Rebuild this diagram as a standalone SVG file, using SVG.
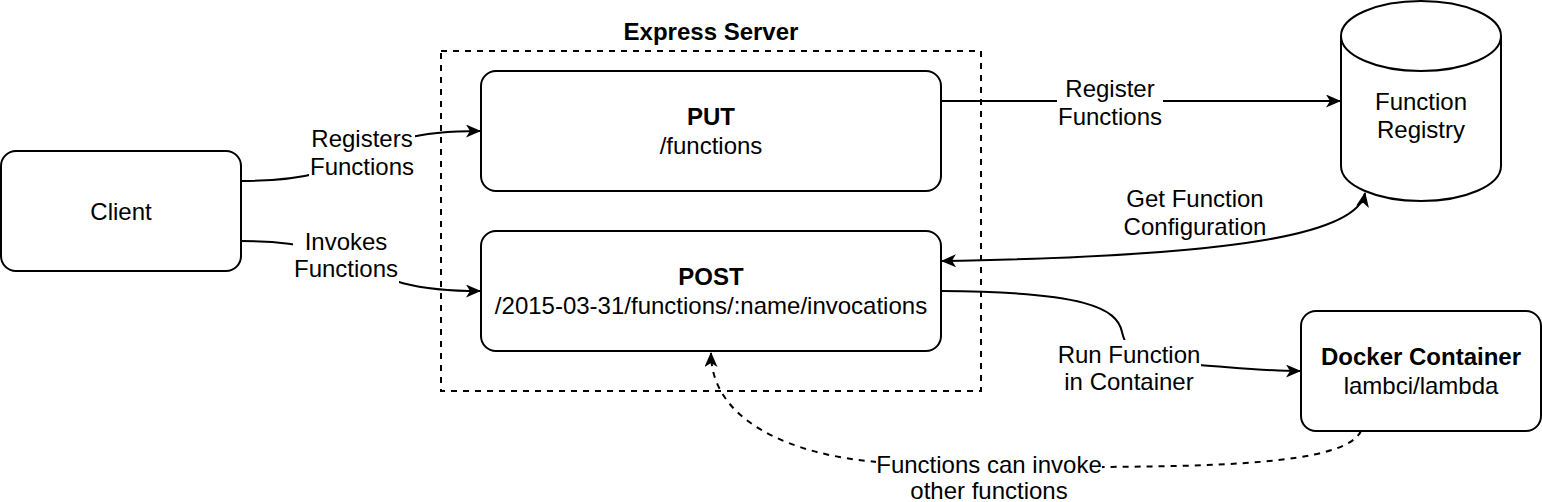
<svg xmlns="http://www.w3.org/2000/svg" width="1542" height="502" viewBox="0 0 1542 502">
<defs>
<style>
text{font-family:"Liberation Sans",Arial,Helvetica,sans-serif;font-size:24px;fill:#000;text-anchor:middle}
.b{font-weight:bold}
.box{fill:#fff;stroke:#000;stroke-width:2}
.edge{fill:none;stroke:#000;stroke-width:2}
.dash{stroke-dasharray:6 6}
.bg{fill:#fff}
</style>
<marker id="arr" viewBox="0 0 15 13" refX="14" refY="6.5" markerWidth="15" markerHeight="13" orient="auto-start-reverse" markerUnits="userSpaceOnUse">
<path d="M0,0 L15,6.5 L0,13 L4,6.5 z" fill="#000"/>
</marker>
</defs>
<rect width="1542" height="502" fill="#fff"/>

<g id="connectors">
<path class="edge" d="M241,181 C380,181 340,131 480,131" marker-end="url(#arr)"/>
<path class="edge" d="M241,241 C380,241 340,291 480,291" marker-end="url(#arr)"/>
<path class="edge" d="M941,101 L1340,101" marker-end="url(#arr)"/>
<path class="edge" d="M1365,193 C1358,232 1250,256 942,261" marker-start="url(#arr)" marker-end="url(#arr)"/>
<path class="edge" d="M941,291 C1085,292 1117,308 1122,332 C1125,345 1130,350 1140,358 L1199,365 C1240,368 1265,371 1300,371" marker-end="url(#arr)"/>
<path class="edge dash" d="M1361,431 C1345,466 1200,466 1100,467 L878,462 C790,455 711,420 711,353" marker-end="url(#arr)"/>
<rect class="bg" x="309" y="126" width="106" height="56"/>
<text x="362" y="147">Registers</text>
<text x="362" y="175">Functions</text>
<rect class="bg" x="293" y="229" width="106" height="54"/>
<text x="346" y="250">Invokes</text>
<text x="346" y="277">Functions</text>
<rect class="bg" x="1057" y="76" width="106" height="54"/>
<text x="1110" y="97">Register</text>
<text x="1110" y="125">Functions</text>
<text x="1195" y="207">Get Function</text>
<text x="1195" y="235">Configuration</text>
<rect class="bg" x="1057" y="340" width="144" height="56"/>
<text x="1129" y="363">Run Function</text>
<text x="1129" y="390">in Container</text>
<rect class="bg" x="876" y="450" width="226" height="52"/>
<text x="989" y="473">Functions can invoke</text>
<text x="989" y="499">other functions</text>
</g>

<g id="express-server">
<rect x="441" y="51" width="540" height="340" fill="none" stroke="#000" stroke-width="2" stroke-dasharray="6 6"/>
<text class="b" x="711" y="40">Express Server</text>
</g>

<g id="client">
<rect class="box" x="1" y="151" width="240" height="120" rx="15"/>
<text x="121" y="220">Client</text>
</g>

<g id="put">
<rect class="box" x="481" y="71" width="460" height="120" rx="15"/>
<text class="b" x="711" y="125">PUT</text>
<text x="711" y="154">/functions</text>
</g>

<g id="post">
<rect class="box" x="481" y="231" width="460" height="120" rx="15"/>
<text class="b" x="711" y="285">POST</text>
<text x="711" y="314">/2015-03-31/functions/:name/invocations</text>
</g>

<g id="registry">
<path class="box" d="M1341,36 A80,35 0 0 1 1501,36 L1501,166 A80,35 0 0 1 1341,166 Z"/>
<path class="edge" d="M1341,36 A80,35 0 0 0 1501,36"/>
<text x="1421" y="110">Function</text>
<text x="1421" y="138">Registry</text>
</g>

<g id="docker">
<rect class="box" x="1301" y="311" width="240" height="120" rx="15"/>
<text class="b" x="1421" y="365">Docker Container</text>
<text x="1421" y="394">lambci/lambda</text>
</g>
</svg>
